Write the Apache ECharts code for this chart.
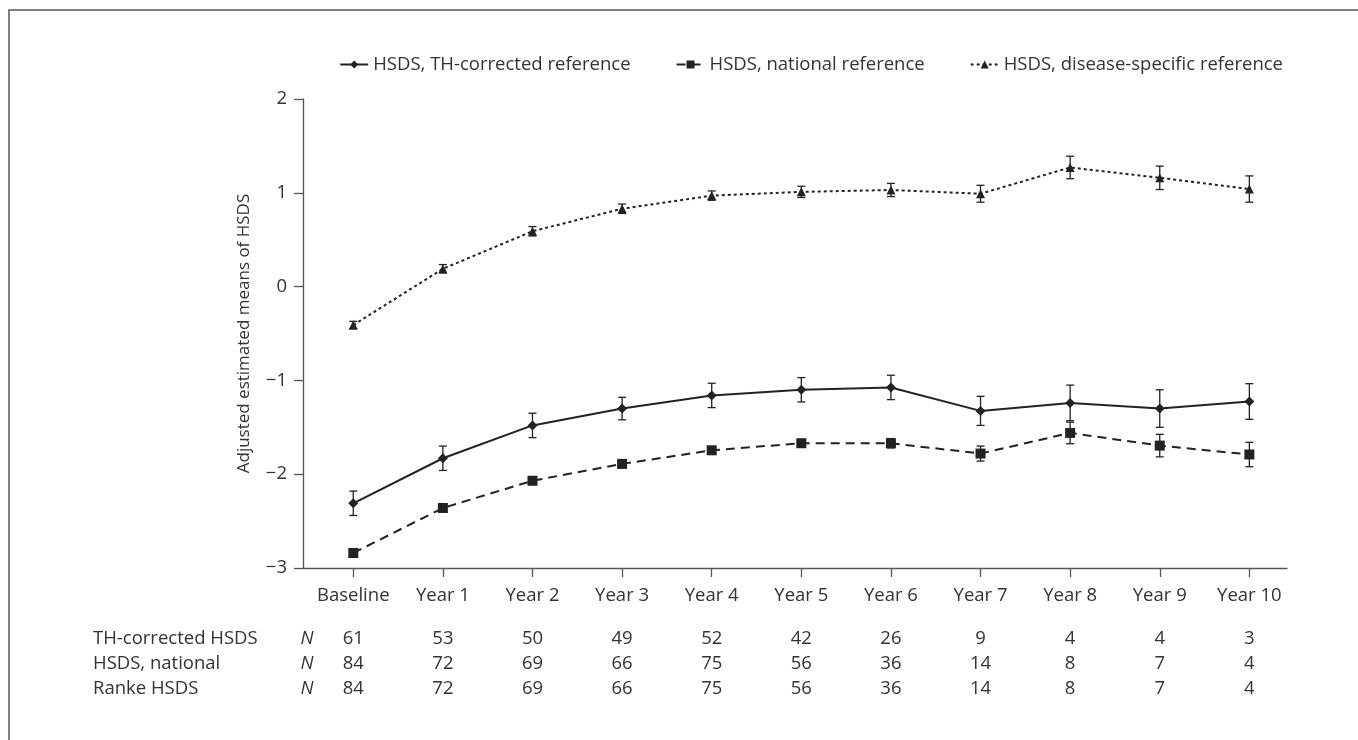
<!DOCTYPE html>
<html>
<head>
<meta charset="utf-8">
<script src="https://cdn.jsdelivr.net/npm/echarts@6/dist/echarts.min.js"></script>
<style>
  html, body { margin: 0; padding: 0; background: #fff; }
  #chart { width: 1358px; height: 740px; }
</style>
</head>
<body>
<div id="chart"></div>
<script>
// ---------------- data ----------------
var timePoints = ["Baseline", "Year 1", "Year 2", "Year 3", "Year 4", "Year 5", "Year 6", "Year 7", "Year 8", "Year 9", "Year 10"];

var thMean  = [-2.31, -1.83, -1.48, -1.30, -1.16, -1.10, -1.075, -1.325, -1.24, -1.30, -1.225];
var thErr   = [0.13, 0.13, 0.13, 0.12, 0.13, 0.13, 0.13, 0.155, 0.19, 0.20, 0.19];
var natMean = [-2.84, -2.36, -2.07, -1.89, -1.745, -1.67, -1.67, -1.78, -1.56, -1.695, -1.79];
var natErr  = [0.03, 0.04, 0.04, 0.04, 0.035, 0.04, 0.05, 0.08, 0.115, 0.12, 0.13];
var disMean = [-0.41, 0.19, 0.59, 0.83, 0.97, 1.01, 1.03, 0.99, 1.27, 1.16, 1.04];
var disErr  = [0.04, 0.045, 0.05, 0.05, 0.05, 0.06, 0.07, 0.09, 0.12, 0.125, 0.14];

var rowLabels = ["TH-corrected HSDS", "HSDS, national", "Ranke HSDS"];
var nTh    = [61, 53, 50, 49, 52, 42, 26, 9, 4, 4, 3];
var nNat   = [84, 72, 69, 66, 75, 56, 36, 14, 8, 7, 4];
var nRanke = [84, 72, 69, 66, 75, 56, 36, 14, 8, 7, 4];

var seriesNames = [
  "HSDS, TH-corrected reference",
  "HSDS, national reference",
  "HSDS, disease-specific reference"
];

var ink = "#222";
var fontFam = "'Open Sans', 'Noto Sans', sans-serif";
var fs = 18.5;

//****************************** helpers *************************************//
function points(means) {
  return means.map(function (v, i) { return [i, v]; });
}
function errRows(means, errs) {
  return means.map(function (v, i) { return [i, v - errs[i], v + errs[i]]; });
}
function renderErr(params, api) {
  var x = api.value(0);
  var lo = api.coord([x, api.value(1)]);
  var hi = api.coord([x, api.value(2)]);
  var cap = 4;
  var st = { stroke: ink, lineWidth: 1.3 };
  return {
    type: "group",
    children: [
      { type: "line", shape: { x1: lo[0], y1: lo[1], x2: hi[0], y2: hi[1] }, style: st },
      { type: "line", shape: { x1: lo[0] - cap, y1: lo[1], x2: lo[0] + cap, y2: lo[1] }, style: st },
      { type: "line", shape: { x1: hi[0] - cap, y1: hi[1], x2: hi[0] + cap, y2: hi[1] }, style: st }
    ]
  };
}
function errSeries(means, errs) {
  return {
    type: "custom",
    renderItem: renderErr,
    data: errRows(means, errs),
    encode: { x: 0, y: [1, 2] },
    silent: true,
    z: 1
  };
}
function lineSeries(name, means, symbol, size, dash) {
  return {
    name: name,
    type: "line",
    data: points(means),
    symbol: symbol,
    symbolSize: size,
    showSymbol: true,
    itemStyle: { color: ink },
    lineStyle: { color: ink, width: 2, type: dash },
    animation: false,
    z: 3
  };
}

var idx = timePoints.map(function (t, i) { return i; });

var dom = document.getElementById("chart");
var myChart = echarts.init(dom, null, { renderer: "canvas" });

var option = {
  animation: false,
  textStyle: { fontFamily: fontFam },
  grid: { left: 303, right: 71, top: 99, bottom: 172, containLabel: false },
  legend: {
    data: seriesNames,
    right: 70,
    top: 50,
    itemWidth: 28,
    itemHeight: 10,
    itemGap: 45,
    textStyle: { fontSize: fs, color: "#333", fontFamily: fontFam }
  },
  xAxis: {
    type: "value",
    min: -0.561,
    max: 10.42,
    axisLine: { show: true, onZero: false, lineStyle: { color: "#555", width: 1.3 } },
    splitLine: { show: false },
    axisTick: { show: true, customValues: idx, length: 9, lineStyle: { color: "#555", width: 1.3 } },
    axisLabel: {
      customValues: idx,
      margin: 18,
      fontSize: fs,
      color: "#333",
      formatter: function (v) { return timePoints[Math.round(v)]; }
    }
  },
  yAxis: {
    type: "value",
    min: -3,
    max: 2,
    interval: 1,
    name: "Adjusted estimated means of HSDS",
    nameLocation: "middle",
    nameGap: 50,
    nameTextStyle: { fontSize: 17, color: "#333" },
    axisLine: { show: true, onZero: false, lineStyle: { color: "#555", width: 1.3 } },
    splitLine: { show: false },
    axisTick: { show: true, length: 9, lineStyle: { color: "#555", width: 1.3 } },
    axisLabel: {
      margin: 16,
      fontSize: fs,
      color: "#333",
      formatter: function (v) { return String(v).replace("-", "\u2212"); }
    }
  },
  series: [
    errSeries(thMean, thErr),
    errSeries(natMean, natErr),
    errSeries(disMean, disErr),
    lineSeries(seriesNames[0], thMean, "diamond", 10, "solid"),
    lineSeries(seriesNames[1], natMean, "rect", 10, [9, 6]),
    lineSeries(seriesNames[2], disMean, "triangle", 9, [3, 3])
  ]
};

myChart.setOption(option);

//****************************** N table under the axis *************************************//
function buildTable() {
  var rows = [nTh, nNat, nRanke];
  var rowY = [639, 664, 689];
  var g = [];
  g.push({
    type: "rect",
    shape: { x: 9, y: 10, width: 1400, height: 800 },
    style: { fill: "none", stroke: "#555", lineWidth: 1.5 },
    silent: true
  });
  rows.forEach(function (vals, r) {
    g.push({
      type: "text", x: 93, y: rowY[r],
      style: { text: rowLabels[r], fontSize: fs, fill: "#333", fontFamily: fontFam, align: "left", verticalAlign: "middle" }
    });
    g.push({
      type: "text", x: 307, y: rowY[r],
      style: { text: "N", fontSize: fs, fontStyle: "italic", fill: "#333", fontFamily: fontFam, align: "center", verticalAlign: "middle" }
    });
    vals.forEach(function (n, i) {
      var px = myChart.convertToPixel({ xAxisIndex: 0 }, i);
      g.push({
        type: "text", x: px, y: rowY[r],
        style: { text: String(n), fontSize: fs, fill: "#333", fontFamily: fontFam, align: "center", verticalAlign: "middle" }
      });
    });
  });
  myChart.setOption({ graphic: g });
}
buildTable();

window.addEventListener("resize", myChart.resize);
</script>
</body>
</html>
